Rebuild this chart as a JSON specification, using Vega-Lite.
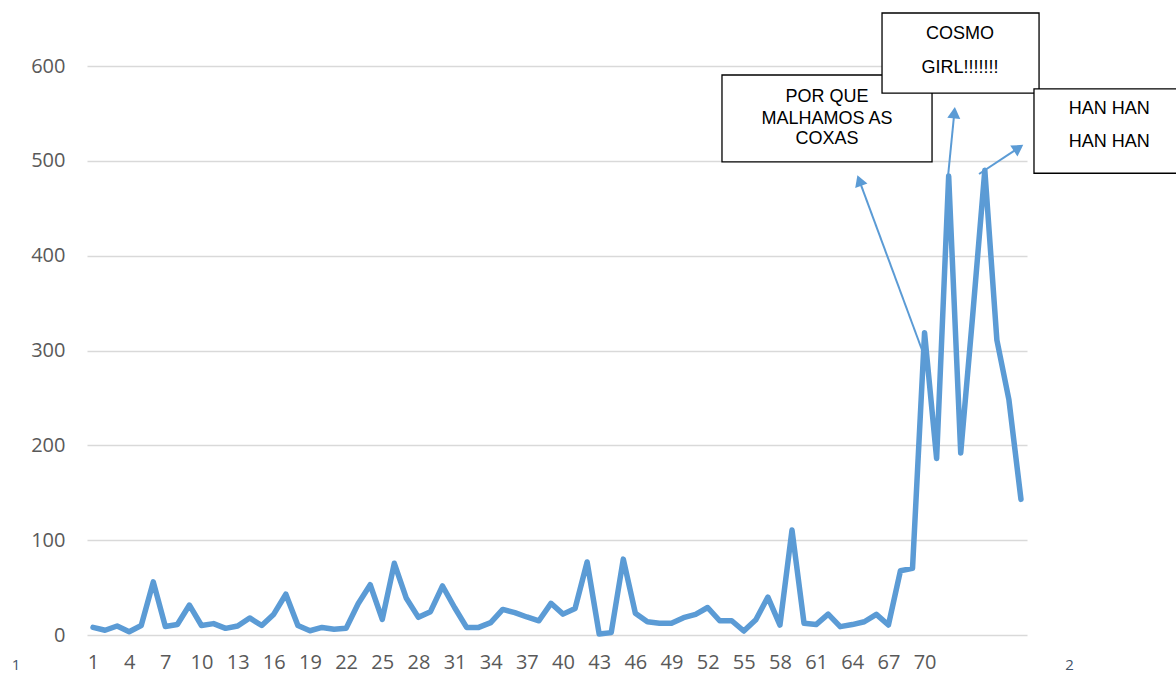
{
  "$schema": "https://vega.github.io/schema/vega-lite/v6.json",
  "width": 940,
  "height": 569,
  "autosize": {"type": "none"},
  "padding": {"left": 87, "top": 66, "right": 149, "bottom": 40},
  "background": "white",
  "config": {"view": {"stroke": null}},
  "datasets": {
    "series": [
      {"n": 1, "v": 8}, {"n": 2, "v": 5}, {"n": 3, "v": 9.5}, {"n": 4, "v": 3.5}, {"n": 5, "v": 10},
      {"n": 6, "v": 56}, {"n": 7, "v": 9}, {"n": 8, "v": 11}, {"n": 9, "v": 31.6}, {"n": 10, "v": 10},
      {"n": 11, "v": 12}, {"n": 12, "v": 7}, {"n": 13, "v": 9.5}, {"n": 14, "v": 18}, {"n": 15, "v": 10},
      {"n": 16, "v": 22}, {"n": 17, "v": 43}, {"n": 18, "v": 10}, {"n": 19, "v": 4.5}, {"n": 20, "v": 8},
      {"n": 21, "v": 6}, {"n": 22, "v": 7}, {"n": 23, "v": 33}, {"n": 24, "v": 53}, {"n": 25, "v": 16.5},
      {"n": 26, "v": 75.6}, {"n": 27, "v": 38.7}, {"n": 28, "v": 18.6}, {"n": 29, "v": 24.6}, {"n": 30, "v": 51.7},
      {"n": 31, "v": 29}, {"n": 32, "v": 8}, {"n": 33, "v": 8}, {"n": 34, "v": 13}, {"n": 35, "v": 27},
      {"n": 36, "v": 23.5}, {"n": 37, "v": 19}, {"n": 38, "v": 15}, {"n": 39, "v": 33.4}, {"n": 40, "v": 22},
      {"n": 41, "v": 28}, {"n": 42, "v": 77}, {"n": 43, "v": 1}, {"n": 44, "v": 2.5}, {"n": 45, "v": 80},
      {"n": 46, "v": 23}, {"n": 47, "v": 14}, {"n": 48, "v": 12.5}, {"n": 49, "v": 12.3}, {"n": 50, "v": 18.3},
      {"n": 51, "v": 21.8}, {"n": 52, "v": 29}, {"n": 53, "v": 15}, {"n": 54, "v": 15}, {"n": 55, "v": 4.2},
      {"n": 56, "v": 16}, {"n": 57, "v": 40}, {"n": 58, "v": 10.5}, {"n": 59, "v": 110.7}, {"n": 60, "v": 12.3},
      {"n": 61, "v": 11}, {"n": 62, "v": 22}, {"n": 63, "v": 8.8}, {"n": 64, "v": 11}, {"n": 65, "v": 14},
      {"n": 66, "v": 21.8}, {"n": 67, "v": 10.5}, {"n": 68, "v": 67.8}, {"n": 69, "v": 70.3}, {"n": 70, "v": 318.8},
      {"n": 71, "v": 186}, {"n": 72, "v": 484}, {"n": 73, "v": 192}, {"n": 74, "v": 338}, {"n": 75, "v": 490},
      {"n": 76, "v": 311}, {"n": 77, "v": 248}, {"n": 78, "v": 143}
    ],
    "boxes": [
      {"x1": 53.19, "x2": 70.62, "y1": 590.5, "y2": 498.8},
      {"x1": 66.47, "x2": 79.5, "y1": 655.9, "y2": 571.5},
      {"x1": 79.08, "x2": 91.2, "y1": 575.8, "y2": 486.9}
    ],
    "boxtext": [
      {"x": 61.9, "y": 567.7, "label": "POR QUE"},
      {"x": 61.9, "y": 544.1, "label": "MALHAMOS AS"},
      {"x": 61.9, "y": 522.7, "label": "COXAS"},
      {"x": 72.94, "y": 633.8, "label": "COSMO"},
      {"x": 72.94, "y": 597.6, "label": "GIRL!!!!!!!"},
      {"x": 85.33, "y": 554.7, "label": "HAN HAN"},
      {"x": 85.33, "y": 520.2, "label": "HAN HAN"}
    ],
    "arrows": [
      {"x1": 69.79, "y1": 300.5, "x2": 64.59, "y2": 479.2},
      {"x1": 71.9, "y1": 477.7, "x2": 72.47, "y2": 550.8},
      {"x1": 74.52, "y1": 486.1, "x2": 77.8, "y2": 513.6}
    ],
    "corner": [
      {"x": -5.39, "y": -31.6, "label": "1"},
      {"x": 82.03, "y": -31.6, "label": "2"}
    ]
  },
  "layer": [
    {
      "data": {"name": "series"},
      "mark": {"type": "line", "color": "#5b9bd5", "strokeWidth": 5.5, "strokeJoin": "round", "strokeCap": "round"},
      "encoding": {
        "x": {
          "field": "n", "type": "quantitative",
          "scale": {"domain": [0.5, 78.5], "nice": false, "zero": false},
          "axis": {
            "values": [1, 4, 7, 10, 13, 16, 19, 22, 25, 28, 31, 34, 37, 40, 43, 46, 49, 52, 55, 58, 61, 64, 67, 70],
            "format": "d", "title": null, "grid": false, "domain": false, "ticks": false,
            "labelFont": "Open Sans", "labelFontSize": 20, "labelColor": "#595959", "labelPadding": 17,
            "labelFlush": false, "labelOverlap": false
          }
        },
        "y": {
          "field": "v", "type": "quantitative",
          "scale": {"domain": [0, 600], "nice": false},
          "axis": {
            "values": [0, 100, 200, 300, 400, 500, 600],
            "title": null, "grid": true, "gridColor": "#d9d9d9", "gridWidth": 1.5,
            "domain": false, "ticks": false,
            "labelFont": "Open Sans", "labelFontSize": 20, "labelColor": "#595959", "labelPadding": 22
          }
        }
      }
    },
    {
      "data": {"name": "arrows"},
      "mark": {"type": "rule", "color": "#5b9bd5", "strokeWidth": 2},
      "encoding": {
        "x": {"field": "x1", "type": "quantitative", "axis": {"title": null}},
        "y": {"field": "y1", "type": "quantitative", "axis": {"title": null}},
        "x2": {"field": "x2"},
        "y2": {"field": "y2"}
      }
    },
    {
      "data": {"name": "arrows"},
      "transform": [{"filter": "datum.x1 == 69.79"}],
      "mark": {"type": "point", "shape": "triangle-up", "filled": true, "color": "#5b9bd5", "opacity": 1, "size": 170, "angle": 339.7},
      "encoding": {
        "x": {"field": "x2", "type": "quantitative", "axis": {"title": null}},
        "y": {"field": "y2", "type": "quantitative", "axis": {"title": null}}
      }
    },
    {
      "data": {"name": "arrows"},
      "transform": [{"filter": "datum.x1 == 71.9"}],
      "mark": {"type": "point", "shape": "triangle-up", "filled": true, "color": "#5b9bd5", "opacity": 1, "size": 170, "angle": 5.6},
      "encoding": {
        "x": {"field": "x2", "type": "quantitative", "axis": {"title": null}},
        "y": {"field": "y2", "type": "quantitative", "axis": {"title": null}}
      }
    },
    {
      "data": {"name": "arrows"},
      "transform": [{"filter": "datum.x1 == 74.52"}],
      "mark": {"type": "point", "shape": "triangle-up", "filled": true, "color": "#5b9bd5", "opacity": 1, "size": 170, "angle": 56.5},
      "encoding": {
        "x": {"field": "x2", "type": "quantitative", "axis": {"title": null}},
        "y": {"field": "y2", "type": "quantitative", "axis": {"title": null}}
      }
    },
    {
      "data": {"name": "boxes"},
      "mark": {"type": "rect", "fill": "white", "stroke": "black", "strokeWidth": 1.3},
      "encoding": {
        "x": {"field": "x1", "type": "quantitative", "axis": {"title": null}},
        "x2": {"field": "x2"},
        "y": {"field": "y1", "type": "quantitative", "axis": {"title": null}},
        "y2": {"field": "y2"}
      }
    },
    {
      "data": {"name": "boxtext"},
      "mark": {"type": "text", "font": "Liberation Sans", "fontSize": 18, "color": "black", "align": "center", "baseline": "middle"},
      "encoding": {
        "x": {"field": "x", "type": "quantitative", "axis": {"title": null}},
        "y": {"field": "y", "type": "quantitative", "axis": {"title": null}},
        "text": {"field": "label"}
      }
    },
    {
      "data": {"name": "corner"},
      "mark": {"type": "text", "font": "Open Sans", "fontSize": 15, "color": "#44546a", "align": "center", "baseline": "middle"},
      "encoding": {
        "x": {"field": "x", "type": "quantitative", "axis": {"title": null}},
        "y": {"field": "y", "type": "quantitative", "axis": {"title": null}},
        "text": {"field": "label"}
      }
    }
  ]
}
